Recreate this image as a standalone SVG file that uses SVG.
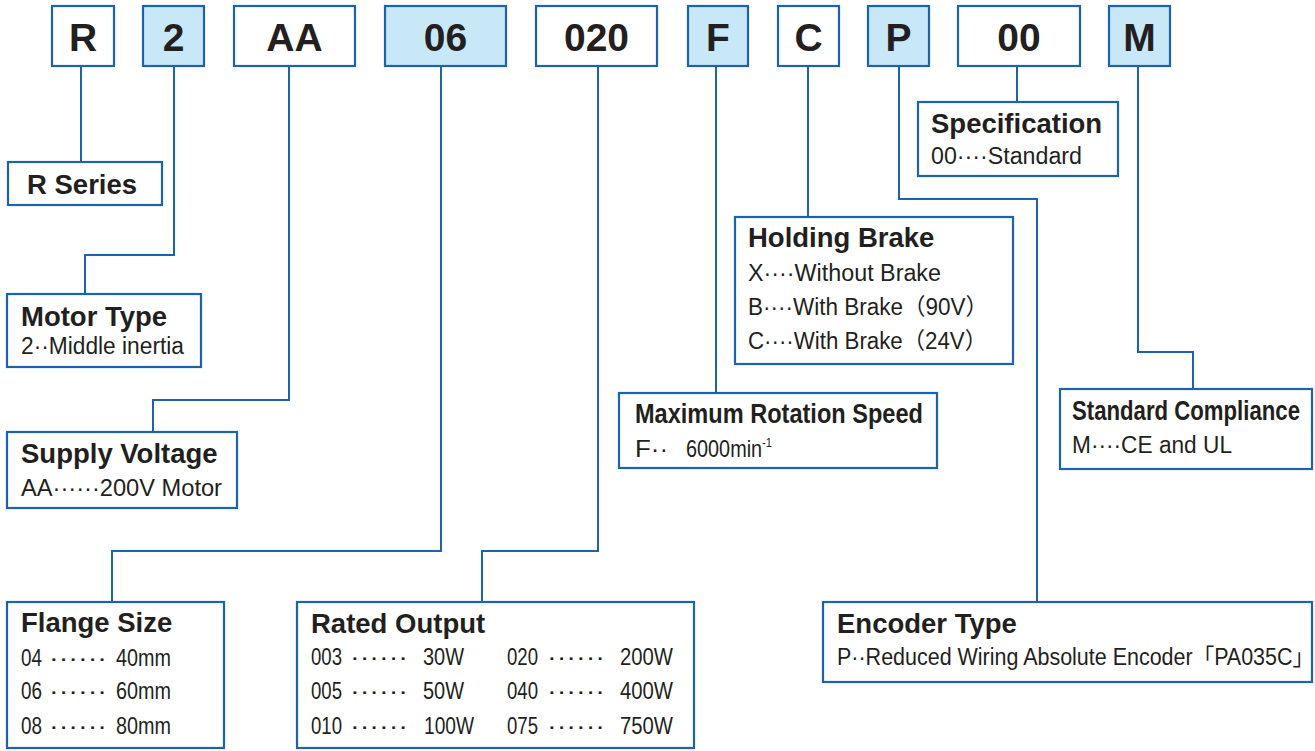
<svg xmlns="http://www.w3.org/2000/svg" width="1315" height="751" viewBox="0 0 1315 751">
<style>
.bx{fill:#fff;stroke:#1b63ae;stroke-width:2.2}
.bf{fill:#c8e8f8;stroke:#1b63ae;stroke-width:2.2}
.cd{font-family:"Liberation Sans",Arial,sans-serif;font-weight:bold;font-size:39px;fill:#231f20;text-anchor:middle}
.t{font-family:"Liberation Sans",Arial,sans-serif;font-weight:bold;font-size:27.5px;fill:#231f20}
.s{font-family:"Liberation Sans","Noto Sans CJK JP",Arial,sans-serif;font-size:23px;fill:#231f20}
.sup{font-family:"Liberation Sans",Arial,sans-serif;font-size:13px;fill:#231f20}
.ln{fill:none;stroke:#1b63ae;stroke-width:2}
</style>
<rect width="1315" height="751" fill="#fff"/>
<g id="connectors">
<path class="ln" d="M81,66 V162"/>
<path class="ln" d="M174,66 V255 H85 V294"/>
<path class="ln" d="M289,66 V400 H153 V432"/>
<path class="ln" d="M441,66 V551 H112 V602"/>
<path class="ln" d="M598,66 V551 H482 V602"/>
<path class="ln" d="M716,66 V393"/>
<path class="ln" d="M808,66 V217"/>
<path class="ln" d="M899,66 V199 H1037 V602"/>
<path class="ln" d="M1017,66 V102"/>
<path class="ln" d="M1138,66 V352 H1193 V389"/>
</g>
<g id="code-R"><rect class="bx" x="52" y="6" width="62" height="60"/><text class="cd" x="83" y="51">R</text></g>
<g id="code-2"><rect class="bf" x="143" y="6" width="61" height="60"/><text class="cd" x="173.5" y="51">2</text></g>
<g id="code-AA"><rect class="bx" x="234" y="6" width="121" height="60"/><text class="cd" x="294.5" y="51">AA</text></g>
<g id="code-06"><rect class="bf" x="385" y="6" width="121" height="60"/><text class="cd" x="445.5" y="51">06</text></g>
<g id="code-020"><rect class="bx" x="536" y="6" width="121" height="60"/><text class="cd" x="596.5" y="51">020</text></g>
<g id="code-F"><rect class="bf" x="688" y="6" width="60" height="60"/><text class="cd" x="718" y="51">F</text></g>
<g id="code-C"><rect class="bx" x="778" y="6" width="61" height="60"/><text class="cd" x="808.5" y="51">C</text></g>
<g id="code-P"><rect class="bf" x="868" y="6" width="61" height="60"/><text class="cd" x="898.5" y="51">P</text></g>
<g id="code-00"><rect class="bx" x="958" y="6" width="122" height="60"/><text class="cd" x="1019" y="51">00</text></g>
<g id="code-M"><rect class="bf" x="1109" y="6" width="61" height="60"/><text class="cd" x="1139.5" y="51">M</text></g>

<g id="r-series"><rect class="bx" x="8" y="162" width="154" height="43"/><text class="t" x="27" y="194">R Series</text></g>
<g id="motor-type"><rect class="bx" x="7" y="294" width="194" height="73"/><text class="t" x="21" y="326">Motor Type</text><text class="s" x="21" y="354" textLength="163" lengthAdjust="spacingAndGlyphs">2··Middle inertia</text></g>
<g id="supply-voltage"><rect class="bx" x="7" y="432" width="230" height="76"/><text class="t" x="21" y="463">Supply Voltage</text><text class="s" x="21" y="496" textLength="201" lengthAdjust="spacingAndGlyphs">AA······200V Motor</text></g>
<g id="flange-size"><rect class="bx" x="7" y="602" width="217" height="146"/><text class="t" x="21" y="632">Flange Size</text>
<text class="s" x="21" y="666" textLength="21" lengthAdjust="spacingAndGlyphs">04</text><text class="s" x="49" y="666" textLength="58" lengthAdjust="spacingAndGlyphs">······</text><text class="s" x="116" y="666" textLength="55" lengthAdjust="spacingAndGlyphs">40mm</text>
<text class="s" x="21" y="699" textLength="21" lengthAdjust="spacingAndGlyphs">06</text><text class="s" x="49" y="699" textLength="58" lengthAdjust="spacingAndGlyphs">······</text><text class="s" x="116" y="699" textLength="55" lengthAdjust="spacingAndGlyphs">60mm</text>
<text class="s" x="21" y="734" textLength="21" lengthAdjust="spacingAndGlyphs">08</text><text class="s" x="49" y="734" textLength="58" lengthAdjust="spacingAndGlyphs">······</text><text class="s" x="116" y="734" textLength="55" lengthAdjust="spacingAndGlyphs">80mm</text></g>
<g id="rated-output"><rect class="bx" x="297" y="602" width="397" height="146"/><text class="t" x="311" y="633">Rated Output</text>
<text class="s" x="311" y="665" textLength="31" lengthAdjust="spacingAndGlyphs">003</text><text class="s" x="350" y="665" textLength="58" lengthAdjust="spacingAndGlyphs">······</text><text class="s" x="423" y="665" textLength="41" lengthAdjust="spacingAndGlyphs">30W</text>
<text class="s" x="311" y="699" textLength="31" lengthAdjust="spacingAndGlyphs">005</text><text class="s" x="350" y="699" textLength="58" lengthAdjust="spacingAndGlyphs">······</text><text class="s" x="423" y="699" textLength="41" lengthAdjust="spacingAndGlyphs">50W</text>
<text class="s" x="311" y="734" textLength="31" lengthAdjust="spacingAndGlyphs">010</text><text class="s" x="350" y="734" textLength="58" lengthAdjust="spacingAndGlyphs">······</text><text class="s" x="424" y="734" textLength="50" lengthAdjust="spacingAndGlyphs">100W</text>
<text class="s" x="507" y="665" textLength="31" lengthAdjust="spacingAndGlyphs">020</text><text class="s" x="547" y="665" textLength="58" lengthAdjust="spacingAndGlyphs">······</text><text class="s" x="620" y="665" textLength="53" lengthAdjust="spacingAndGlyphs">200W</text>
<text class="s" x="507" y="699" textLength="31" lengthAdjust="spacingAndGlyphs">040</text><text class="s" x="547" y="699" textLength="58" lengthAdjust="spacingAndGlyphs">······</text><text class="s" x="620" y="699" textLength="53" lengthAdjust="spacingAndGlyphs">400W</text>
<text class="s" x="507" y="734" textLength="31" lengthAdjust="spacingAndGlyphs">075</text><text class="s" x="547" y="734" textLength="58" lengthAdjust="spacingAndGlyphs">······</text><text class="s" x="620" y="734" textLength="53" lengthAdjust="spacingAndGlyphs">750W</text></g>
<g id="max-rotation-speed"><rect class="bx" x="619" y="393" width="318" height="75"/><text class="t" transform="translate(635,423) scale(0.857,1)" x="0" y="0">Maximum Rotation Speed</text><text class="s" x="635" y="457" textLength="33" lengthAdjust="spacingAndGlyphs">F··</text><text class="s" transform="translate(686,457) scale(0.863,1)" x="0" y="0">6000min<tspan class="sup" font-size="15" dy="-10">-1</tspan></text></g>
<g id="holding-brake"><rect class="bx" x="735" y="217" width="278" height="147"/><text class="t" x="748" y="247">Holding Brake</text>
<text class="s" x="748" y="281" textLength="193" lengthAdjust="spacingAndGlyphs">X····Without Brake</text>
<text class="s" x="748" y="315" textLength="240" lengthAdjust="spacingAndGlyphs">B····With Brake（90V）</text>
<text class="s" x="748" y="349" textLength="239" lengthAdjust="spacingAndGlyphs">C····With Brake（24V）</text></g>
<g id="specification"><rect class="bx" x="918" y="102" width="200" height="74"/><text class="t" x="931" y="133">Specification</text><text class="s" x="931" y="164" textLength="151" lengthAdjust="spacingAndGlyphs">00····Standard</text></g>
<g id="standard-compliance"><rect class="bx" x="1060" y="389" width="252" height="80"/><text class="t" transform="translate(1072,420) scale(0.807,1)" x="0" y="0">Standard Compliance</text><text class="s" x="1072" y="453" textLength="160" lengthAdjust="spacingAndGlyphs">M····CE and UL</text></g>
<g id="encoder-type"><rect class="bx" x="823" y="602" width="489" height="80"/><text class="t" x="837" y="633">Encoder Type</text><text class="s" transform="translate(837,665) scale(0.928,1)" x="0" y="0" textLength="514" lengthAdjust="spacingAndGlyphs">P··Reduced Wiring Absolute Encoder「PA035C」</text></g>
</svg>
